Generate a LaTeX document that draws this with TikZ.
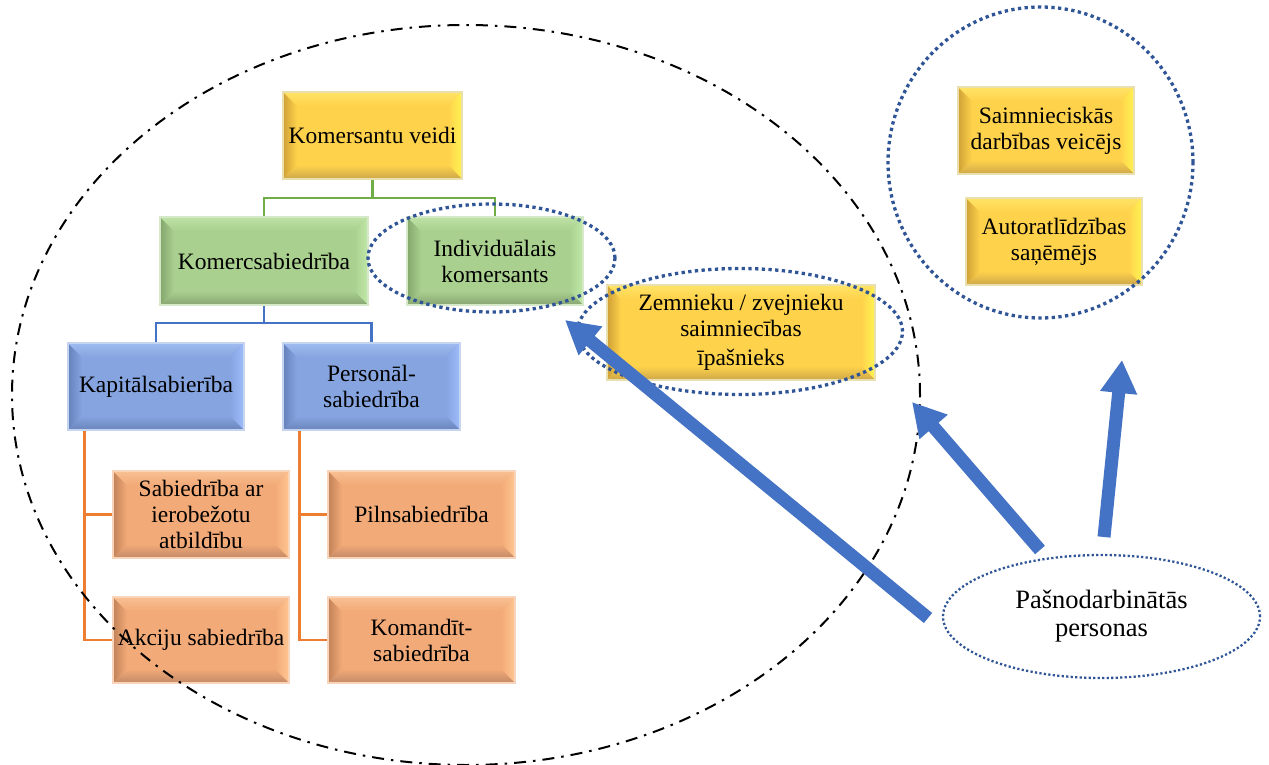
\documentclass[tikz,border=0pt]{standalone}
\usepackage{fontspec}
\setmainfont{Liberation Serif}
\usetikzlibrary{shapes.geometric,arrows.meta,calc}
\newcommand\boxfont{\fontsize{23.5}{26}\selectfont}
\newcommand\ellfont{\fontsize{26.5}{28}\selectfont}
\definecolor{yFace}{HTML}{FFD24C}
\definecolor{yLeft}{HTML}{CFA036}
\definecolor{yTop}{HTML}{FFE466}
\definecolor{yRight}{HTML}{FFF352}
\definecolor{yBot}{HTML}{CCA748}
\definecolor{yBord}{HTML}{EADFAE}
\definecolor{gFace}{HTML}{A9D08E}
\definecolor{gLeft}{HTML}{84A66C}
\definecolor{gTop}{HTML}{BEE2A5}
\definecolor{gRight}{HTML}{C0E8A8}
\definecolor{gBot}{HTML}{88A473}
\definecolor{gBord}{HTML}{D5E8C8}
\definecolor{bFace}{HTML}{86A4E0}
\definecolor{bLeft}{HTML}{6682BC}
\definecolor{bTop}{HTML}{A0BBF0}
\definecolor{bRight}{HTML}{9EBCFA}
\definecolor{bBot}{HTML}{6A84BA}
\definecolor{bBord}{HTML}{C5D5F0}
\definecolor{oFace}{HTML}{F2AA78}
\definecolor{oLeft}{HTML}{C28158}
\definecolor{oTop}{HTML}{F8BF92}
\definecolor{oRight}{HTML}{FFC692}
\definecolor{oBot}{HTML}{C38966}
\definecolor{oBord}{HTML}{F8D5BA}
\definecolor{lnGreen}{HTML}{70AD47}
\definecolor{lnBlue}{HTML}{4472C4}
\definecolor{lnOrange}{HTML}{ED7D31}
\definecolor{dotBlue}{HTML}{2F5597}
\definecolor{arrBlue}{HTML}{4472C4}
\tikzset{
  bev/.style n args={6}{rectangle, inner sep=0pt, align=center, font=\boxfont,
    fill=#1, draw=#6, line width=1.6pt,
    path picture={
      \path (path picture bounding box.south west) coordinate (bvsw)
            (path picture bounding box.north west) coordinate (bvnw)
            (path picture bounding box.north east) coordinate (bvne)
            (path picture bounding box.south east) coordinate (bvse);
      \shade[left color=#2, right color=#1] (bvsw) -- (bvnw) -- ([shift={(14pt,-14pt)}]bvnw) -- ([shift={(14pt,14pt)}]bvsw) -- cycle;
      \shade[top color=#3, bottom color=#1] (bvnw) -- (bvne) -- ([shift={(-14pt,-14pt)}]bvne) -- ([shift={(14pt,-14pt)}]bvnw) -- cycle;
      \shade[left color=#1, right color=#4] (bvne) -- (bvse) -- ([shift={(-14pt,14pt)}]bvse) -- ([shift={(-14pt,-14pt)}]bvne) -- cycle;
      \shade[top color=#1, bottom color=#5] (bvse) -- (bvsw) -- ([shift={(14pt,14pt)}]bvsw) -- ([shift={(-14pt,14pt)}]bvse) -- cycle;
    }},
  ybox/.style={bev={yFace}{yLeft}{yTop}{yRight}{yBot}{yBord}},
  gbox/.style={bev={gFace}{gLeft}{gTop}{gRight}{gBot}{gBord}},
  bbox/.style={bev={bFace}{bLeft}{bTop}{bRight}{bBot}{bBord}},
  obox/.style={bev={oFace}{oLeft}{oTop}{oRight}{oBot}{oBord}},
  conn/.style={line width=2.6pt},
  dotell/.style={ellipse, inner sep=0pt, draw=dotBlue, line width=3.3pt, dash pattern=on 3.3pt off 3.4pt},
  thindotell/.style={ellipse, inner sep=0pt, draw=dotBlue, line width=2.3pt, dash pattern=on 2.2pt off 2.3pt, font=\ellfont, align=center},
  bigell/.style={ellipse, inner sep=0pt, draw=black, line width=2pt, dash pattern=on 12pt off 7pt on 2.5pt off 7pt},
  fatarrow/.style={draw=arrBlue, line width=13pt, -{Triangle[width=35pt,length=33pt]}}
}
\begin{document}
\begin{tikzpicture}[x=1pt,y=-1pt]
\useasboundingbox (0,0) rectangle (1269,765);
% boxes
\node[ybox, minimum width=179pt, minimum height=87pt] (kv) at (372.5,135.5) {Komersantu veidi};
\node[gbox, minimum width=208pt, minimum height=88pt] (ks) at (264,261) {Komercsabiedrība};
\node[gbox, minimum width=176pt, minimum height=88pt] (ik) at (495,261) {Individuālais\\komersants};
\node[bbox, minimum width=176pt, minimum height=87pt] (kap) at (156,386.5) {Kapitālsabierība};
\node[bbox, minimum width=177pt, minimum height=87pt] (per) at (371.5,386.5) {Personāl-\\sabiedrība};
\node[obox, minimum width=176pt, minimum height=87pt] (sab) at (201,514.5) {Sabiedrība ar\\ierobežotu\\atbildību};
\node[obox, minimum width=176pt, minimum height=86pt] (akc) at (201,640) {Akciju sabiedrība};
\node[obox, minimum width=187pt, minimum height=87pt] (pil) at (421.5,514.5) {Pilnsabiedrība};
\node[obox, minimum width=187pt, minimum height=86pt] (kom) at (421.5,640) {Komandīt-\\sabiedrība};
\node[ybox, minimum width=268pt, minimum height=95pt] (zem) at (741,332.5) {Zemnieku / zvejnieku\\saimniecības\\[3pt]īpašnieks};
\node[ybox, minimum width=176pt, minimum height=87pt] (sai) at (1046,130.5) {Saimnieciskās\\darbības veicējs};
\node[ybox, minimum width=176pt, minimum height=87pt] (aut) at (1054,241.5) {Autoratlīdzības\\saņēmējs};
% connectors
\coordinate (gj) at (372.5,198);
\draw[conn, lnGreen] (kv.south) -- (gj);
\draw[conn, lnGreen] (ks.north) |- (gj) -| (ik.north);
\coordinate (bj) at (264,323);
\draw[conn, lnBlue] (ks.south) -- (bj);
\draw[conn, lnBlue] (kap.north) |- (bj) -| (per.north);
\coordinate (o1) at ([xshift=17pt]kap.south west);
\draw[conn, lnOrange] (o1) |- (akc.west);
\draw[conn, lnOrange] (o1) |- (sab.west);
\coordinate (o2) at ([xshift=17pt]per.south west);
\draw[conn, lnOrange] (o2) |- (kom.west);
\draw[conn, lnOrange] (o2) |- (pil.west);
% ellipses
\node[dotell, minimum width=247pt, minimum height=108pt] (eik) at (491.5,258) {};
\node[dotell, minimum width=325pt, minimum height=126pt] (ezem) at (740,331.5) {};
\node[dotell, minimum width=305pt, minimum height=311pt] (eright) at (1040.5,162.5) {};
\node[thindotell, minimum width=317pt, minimum height=123pt] (pn) at (1101.5,616.5) {Pašnodarbinātās\\personas};
\node[bigell, minimum width=908pt, minimum height=740pt] (big) at (466,395) {};
% arrows
\coordinate (a1s) at (928,618);
\coordinate (a1e) at (565,320);
\coordinate (a2s) at (1040,550);
\coordinate (a2e) at (912,402);
\coordinate (a3s) at (1104,537);
\coordinate (a3e) at (1122,360);
\draw[fatarrow] (a1s) -- (a1e);
\draw[fatarrow] (a2s) -- (a2e);
\draw[fatarrow] (a3s) -- (a3e);
\end{tikzpicture}
\end{document}
